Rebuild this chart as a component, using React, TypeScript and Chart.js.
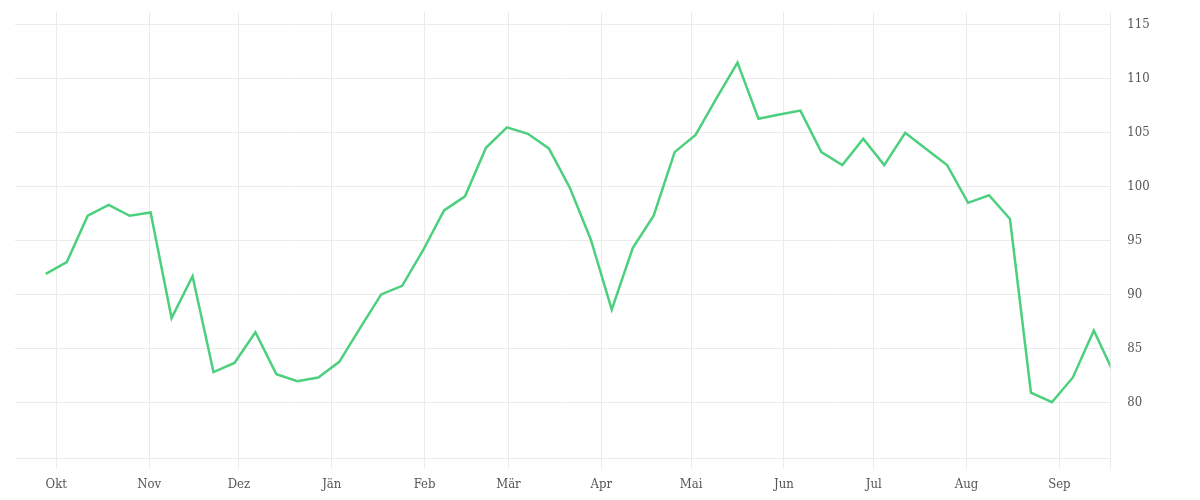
import { useEffect, useRef } from 'react';
import { Chart, registerables } from 'chart.js';

Chart.register(...registerables);

// weekly points (dates) and index values
const weekDates = [
  '2022-09-27', '2022-10-04', '2022-10-11', '2022-10-18', '2022-10-25',
  '2022-11-01', '2022-11-08', '2022-11-15', '2022-11-22', '2022-11-29',
  '2022-12-06', '2022-12-13', '2022-12-20', '2022-12-27',
  '2023-01-03', '2023-01-10', '2023-01-17', '2023-01-24', '2023-01-31',
  '2023-02-07', '2023-02-14', '2023-02-21', '2023-02-28',
  '2023-03-07', '2023-03-14', '2023-03-21', '2023-03-28',
  '2023-04-04', '2023-04-11', '2023-04-18', '2023-04-25',
  '2023-05-02', '2023-05-09', '2023-05-16', '2023-05-23', '2023-05-30',
  '2023-06-06', '2023-06-13', '2023-06-20', '2023-06-27',
  '2023-07-04', '2023-07-11', '2023-07-18', '2023-07-25',
  '2023-08-01', '2023-08-08', '2023-08-15', '2023-08-22', '2023-08-29',
  '2023-09-05', '2023-09-12', '2023-09-19'
];

const values = [
  91.9, 93.0, 97.3, 98.3, 97.3,
  97.6, 87.8, 91.7, 82.8, 83.65,
  86.5, 82.6, 81.95, 82.3,
  83.75, 86.9, 90.0, 90.8, 94.1,
  97.8, 99.1, 103.6, 105.5,
  104.9, 103.55, 99.9, 95.1,
  88.6, 94.3, 97.3, 103.2,
  104.8, 108.2, 111.5, 106.3, 106.7,
  107.05, 103.2, 102.0, 104.45,
  102.0, 105.0, 103.5, 102.0,
  98.5, 99.2, 97.0, 80.9, 80.0,
  82.3, 86.65, 82.5
];

const monthLabels = ['Okt', 'Nov', 'Dez', 'Jän', 'Feb', 'Mär', 'Apr', 'Mai', 'Jun', 'Jul', 'Aug', 'Sep'];
const monthStarts = [
  '2022-10-01', '2022-11-01', '2022-12-01', '2023-01-01', '2023-02-01', '2023-03-01',
  '2023-04-01', '2023-05-01', '2023-06-01', '2023-07-01', '2023-08-01', '2023-09-01'
];
const yTicks = [80, 85, 90, 95, 100, 105, 110, 115];

const rangeStart = '2022-09-17T05:00';
const rangeEnd = '2023-09-18T00:00';
const yMin = 74.8;
const yMax = 116.2;

// days since Oct 1st (local time)
const origin = new Date('2022-10-01T00:00').getTime();
const toDay = (s: string) => (new Date(s.length === 10 ? s + 'T12:00' : s).getTime() - origin) / 864e5;
const toDayMidnight = (s: string) => (new Date(s + 'T00:00').getTime() - origin) / 864e5;

const gridColor = '#ebebeb';
const textColor = '#555';
const fontFamily = "'DejaVu Serif Condensed', 'DejaVu Serif', serif";

export default function App() {
  const canvasRef = useRef<HTMLCanvasElement>(null);

  useEffect(() => {
    document.body.style.margin = '0';
    if (!canvasRef.current) return;

    const monthDays = monthStarts.map(toDayMidnight);
    const xMax = toDay(rangeEnd);

    const chart = new Chart(canvasRef.current, {
      type: 'line',
      data: {
        datasets: [
          {
            data: weekDates.map((d, i) => ({ x: toDay(d), y: values[i] })),
            borderColor: '#4cd07d',
            borderWidth: 2.5,
            pointRadius: 0,
            tension: 0,
            fill: false,
            clip: 0,
          },
        ],
      },
      options: {
        animation: false,
        responsive: true,
        maintainAspectRatio: false,
        layout: { padding: { left: 15, top: 12, right: 0, bottom: 0 } },
        plugins: {
          legend: { display: false },
          tooltip: { enabled: false },
        },
        scales: {
          x: {
            type: 'linear',
            min: toDay(rangeStart),
            max: xMax,
            afterBuildTicks: (axis: any) => {
              axis.ticks = [...monthDays.map(v => ({ value: v })), { value: xMax }];
            },
            afterFit: (axis: any) => {
              axis.height = 41.7;
              axis.paddingLeft = 0;
              axis.paddingRight = 0;
            },
            grid: { color: gridColor, tickLength: 10, tickColor: gridColor },
            border: { display: true, color: gridColor },
            ticks: {
              autoSkip: false,
              maxRotation: 0,
              padding: 9,
              color: textColor,
              font: { family: fontFamily, size: 13 },
              callback: (v: any) => {
                const i = monthDays.indexOf(v);
                return i >= 0 ? monthLabels[i] : '';
              },
            },
          },
          y: {
            type: 'linear',
            position: 'right',
            min: yMin,
            max: yMax,
            afterBuildTicks: (axis: any) => {
              axis.ticks = yTicks.map(v => ({ value: v }));
            },
            afterFit: (axis: any) => {
              axis.width = 89.7;
              axis.paddingTop = 0;
              axis.paddingBottom = 0;
            },
            grid: { color: gridColor, drawTicks: false },
            border: { display: false },
            ticks: {
              padding: 17,
              color: textColor,
              font: { family: fontFamily, size: 13 },
            },
          },
        },
      },
    } as any);

    return () => chart.destroy();
  }, []);

  return (
    <div style={{ width: 1200, height: 500, position: 'relative' }}>
      <canvas ref={canvasRef} />
    </div>
  );
}
